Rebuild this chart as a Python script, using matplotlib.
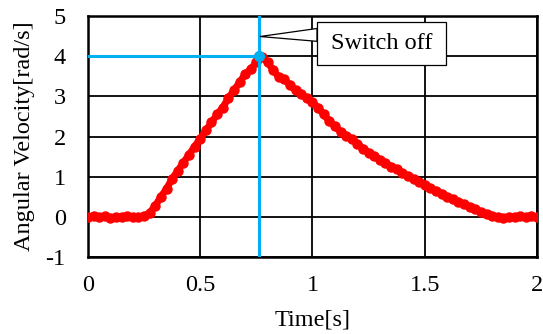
"""
Angular velocity vs time, with the switch-off point marked
"""

import matplotlib.pyplot as plt
from matplotlib.patches import Rectangle, Polygon

plt.rcParams["font.family"] = ["Liberation Serif", "DejaVu Serif"]
plt.rcParams["axes.unicode_minus"] = False

time_s = [0.000, 0.025, 0.050, 0.075, 0.100, 0.125, 0.150, 0.175, 0.200, 0.225,
          0.250, 0.275, 0.300, 0.325, 0.350, 0.375, 0.400, 0.425, 0.450, 0.475,
          0.500, 0.525, 0.550, 0.575, 0.600, 0.625, 0.650, 0.675, 0.700, 0.725,
          0.750, 0.760, 0.775, 0.800, 0.825, 0.850, 0.875, 0.900, 0.925, 0.950,
          0.975, 1.000, 1.025, 1.050, 1.075, 1.100, 1.125, 1.150, 1.175, 1.200,
          1.225, 1.250, 1.275, 1.300, 1.325, 1.350, 1.375, 1.400, 1.425, 1.450,
          1.475, 1.500, 1.525, 1.550, 1.575, 1.600, 1.625, 1.650, 1.675, 1.700,
          1.725, 1.750, 1.775, 1.800, 1.825, 1.850, 1.875, 1.900, 1.925, 1.950,
          1.975, 2.000]
omega = [0.00, 0.02, -0.01, 0.01, -0.02, 0.00, -0.01, 0.01, 0.00, 0.00,
         0.02, 0.10, 0.28, 0.50, 0.70, 0.95, 1.15, 1.35, 1.55, 1.75,
         1.95, 2.15, 2.35, 2.55, 2.72, 2.95, 3.15, 3.35, 3.55, 3.68,
         3.85, 4.00, 3.98, 3.85, 3.65, 3.48, 3.42, 3.28, 3.15, 3.05,
         2.95, 2.85, 2.72, 2.55, 2.38, 2.25, 2.12, 2.02, 1.95, 1.82,
         1.70, 1.60, 1.52, 1.42, 1.35, 1.25, 1.18, 1.10, 1.02, 0.95,
         0.88, 0.80, 0.72, 0.65, 0.58, 0.50, 0.45, 0.38, 0.32, 0.25,
         0.20, 0.13, 0.08, 0.03, 0.00, -0.02, 0.00, -0.01, 0.01, 0.00,
         0.01, 0.00]

t_off = 0.76
w_off = 4.0

fig = plt.figure(figsize=(5.43, 3.34), dpi=100)
ax = fig.add_axes([0.162, 0.2305, 0.827, 0.7215])

ax.plot(time_s, omega, color="#ff0000", lw=5, marker="o", ms=6.5,
        solid_joinstyle="round", solid_capstyle="round", zorder=3)

# switch-off guide lines
ax.axvline(t_off, color="#00b0f0", lw=2.2, zorder=4)
ax.plot([0, t_off], [w_off, w_off], color="#00b0f0", lw=2.2, zorder=4)
ax.plot([t_off], [w_off], "o", color="#00b0f0", ms=7, zorder=5)

# callout: pointer wedge + box
ax.add_patch(Polygon([(t_off + 0.006, 4.49), (1.02, 4.69), (1.02, 4.37)],
                     closed=True, fc="white", ec="black", lw=0.9, zorder=6,
                     clip_on=False))
ax.add_patch(Rectangle((1.019, 3.79), 0.576, 1.06, fc="white", ec="black",
                       lw=0.9, zorder=7))
ax.text(1.307, 4.31, "Switch off", fontsize=17.5, ha="center", va="center",
        zorder=8)

ax.set_xlim(0, 2)
ax.set_ylim(-1, 5)
ax.set_xticks([0, 0.5, 1, 1.5, 2])
ax.set_xticklabels(["0", "0.5", "1", "1.5", "2"])
ax.set_yticks(range(-1, 6))
ax.tick_params(length=0, labelsize=17.5)
ax.tick_params(axis="x", pad=13)
ax.tick_params(axis="y", pad=16)
ax.grid(True, color="black", lw=1.3)
ax.set_axisbelow(True)
for s in ax.spines.values():
    s.set_linewidth(1.8)

ax.set_xlabel("Time[s]", fontsize=17.5, labelpad=10)
ax.set_ylabel("Angular Velocity[rad/s]", fontsize=17.5, labelpad=8)

fig.savefig("out.png", dpi=100)
plt.close()
